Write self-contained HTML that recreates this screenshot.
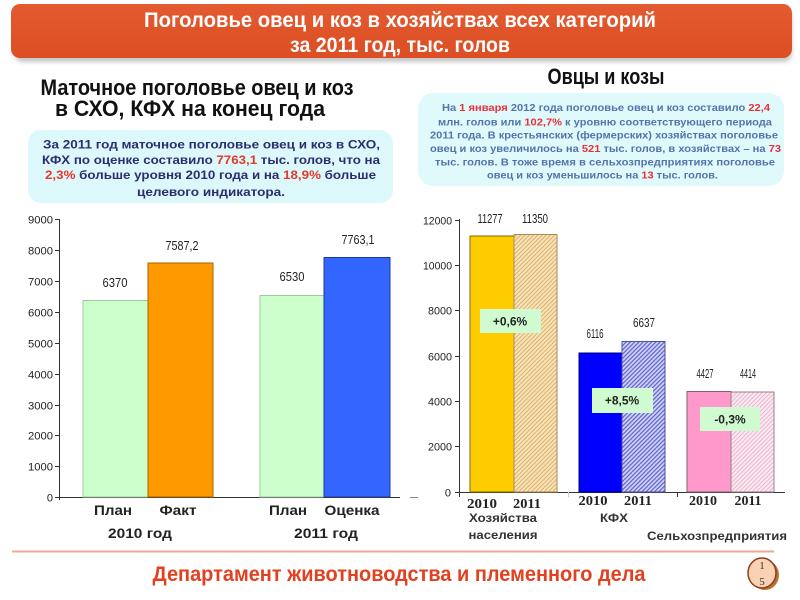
<!DOCTYPE html>
<html><head><meta charset="utf-8"><style>
html,body{margin:0;padding:0;background:#fff;}
svg{display:block;}
</style></head><body>
<svg width="800" height="600" viewBox="0 0 800 600" xmlns="http://www.w3.org/2000/svg" font-family="'Liberation Sans', sans-serif">
<defs>
<linearGradient id="ban" x1="0" y1="0" x2="0" y2="1">
<stop offset="0" stop-color="#e45a30"/><stop offset="1" stop-color="#dc4e24"/>
</linearGradient>
<filter id="sh" x="-5%" y="-20%" width="110%" height="160%"><feGaussianBlur stdDeviation="2"/></filter>
<pattern id="hTan" width="3" height="3" patternUnits="userSpaceOnUse" patternTransform="rotate(45)">
<rect width="3" height="3" fill="#f9e3b6"/><rect width="1" height="3" fill="#d9b272"/></pattern>
<pattern id="hBlue" width="3" height="3" patternUnits="userSpaceOnUse" patternTransform="rotate(45)">
<rect width="3" height="3" fill="#d0d3f4"/><rect width="1.2" height="3" fill="#5b60cf"/></pattern>
<pattern id="hPink" width="3" height="3" patternUnits="userSpaceOnUse" patternTransform="rotate(45)">
<rect width="3" height="3" fill="#fbe8f1"/><rect width="1" height="3" fill="#eab8d0"/></pattern>
</defs>

<!-- Banner -->
<rect x="14" y="9" width="778" height="53" rx="9" fill="#999" opacity="0.55" filter="url(#sh)"/>
<rect x="11" y="4" width="781" height="54" rx="9" fill="url(#ban)"/>
<text x="400" y="27" font-size="21" font-weight="bold" fill="#fff" text-anchor="middle" textLength="512" lengthAdjust="spacingAndGlyphs">Поголовье  овец и коз в хозяйствах всех категорий</text>
<text x="400" y="52" font-size="21" font-weight="bold" fill="#fff" text-anchor="middle" textLength="220" lengthAdjust="spacingAndGlyphs">за 2011 год, тыс. голов</text>

<!-- Subtitles -->
<text x="197" y="95" font-size="22" font-weight="bold" fill="#111" text-anchor="middle" textLength="313" lengthAdjust="spacingAndGlyphs">Маточное поголовье овец и коз</text>
<text x="190" y="116" font-size="22" font-weight="bold" fill="#111" text-anchor="middle" textLength="270" lengthAdjust="spacingAndGlyphs">в СХО, КФХ на конец года</text>
<text x="606" y="84" font-size="22" font-weight="bold" fill="#111" text-anchor="middle" textLength="117" lengthAdjust="spacingAndGlyphs">Овцы и козы</text>

<!-- Left text box -->
<rect x="28" y="130" width="365" height="73" rx="13" fill="#dcf8fb"/>
<g font-size="12" font-weight="bold" fill="#2b2d6e">
<text x="43" y="148.5" textLength="337" lengthAdjust="spacingAndGlyphs">За 2011 год маточное поголовье овец и коз в СХО,</text>
<text x="42" y="164" textLength="338" lengthAdjust="spacingAndGlyphs">КФХ по оценке составило <tspan fill="#e5382c">7763,1</tspan> тыс. голов, что на</text>
<text x="45" y="179" textLength="331" lengthAdjust="spacingAndGlyphs"><tspan fill="#e5382c">2,3%</tspan> больше уровня 2010 года и на <tspan fill="#e5382c">18,9%</tspan> больше</text>
<text x="137" y="196" textLength="148" lengthAdjust="spacingAndGlyphs">целевого индикатора.</text>
</g>

<!-- Right text box -->
<rect x="418" y="93" width="366" height="93" rx="15" fill="#e0fafc"/>
<g font-size="10.5" font-weight="bold" fill="#5374ab">
<text x="442" y="111" textLength="328" lengthAdjust="spacingAndGlyphs">На <tspan fill="#e8303a">1 января</tspan> 2012 года поголовье овец и коз составило <tspan fill="#e8303a">22,4</tspan></text>
<text x="438" y="125.5" textLength="334" lengthAdjust="spacingAndGlyphs">млн. голов или <tspan fill="#e8303a">102,7%</tspan> к уровню соответствующего периода</text>
<text x="430" y="138.5" textLength="348" lengthAdjust="spacingAndGlyphs">2011 года. В крестьянских (фермерских) хозяйствах поголовье</text>
<text x="430" y="152" textLength="351" lengthAdjust="spacingAndGlyphs">овец и коз увеличилось на <tspan fill="#e8303a">521</tspan> тыс. голов, в хозяйствах – на <tspan fill="#e8303a">73</tspan></text>
<text x="435" y="165.5" textLength="340" lengthAdjust="spacingAndGlyphs">тыс. голов. В тоже время в сельхозпредприятиях поголовье</text>
<text x="487" y="178.5" textLength="231" lengthAdjust="spacingAndGlyphs">овец и коз уменьшилось на <tspan fill="#e8303a">13</tspan> тыс. голов.</text>
</g>

<!-- Left chart -->
<g stroke="#333" stroke-width="1">
<line x1="59.5" y1="219" x2="59.5" y2="500"/>
<line x1="59" y1="497.5" x2="400" y2="497.5"/>
<line x1="55" y1="219.5" x2="59" y2="219.5"/>
<line x1="55" y1="250.5" x2="59" y2="250.5"/>
<line x1="55" y1="281.5" x2="59" y2="281.5"/>
<line x1="55" y1="312.5" x2="59" y2="312.5"/>
<line x1="55" y1="343.5" x2="59" y2="343.5"/>
<line x1="55" y1="374.5" x2="59" y2="374.5"/>
<line x1="55" y1="405.5" x2="59" y2="405.5"/>
<line x1="55" y1="435.5" x2="59" y2="435.5"/>
<line x1="55" y1="466.5" x2="59" y2="466.5"/>
<line x1="55" y1="497.5" x2="59" y2="497.5"/>
</g>
<g font-size="11" fill="#222" text-anchor="end">
<text x="53" y="223.5" textLength="25" lengthAdjust="spacingAndGlyphs">9000</text>
<text x="53" y="254.5" textLength="25" lengthAdjust="spacingAndGlyphs">8000</text>
<text x="53" y="285.5" textLength="25" lengthAdjust="spacingAndGlyphs">7000</text>
<text x="53" y="316.5" textLength="25" lengthAdjust="spacingAndGlyphs">6000</text>
<text x="53" y="347.5" textLength="25" lengthAdjust="spacingAndGlyphs">5000</text>
<text x="53" y="378.5" textLength="25" lengthAdjust="spacingAndGlyphs">4000</text>
<text x="53" y="409.5" textLength="25" lengthAdjust="spacingAndGlyphs">3000</text>
<text x="53" y="439.5" textLength="25" lengthAdjust="spacingAndGlyphs">2000</text>
<text x="53" y="470.5" textLength="25" lengthAdjust="spacingAndGlyphs">1000</text>
<text x="53" y="501.5">0</text>
</g>
<rect x="83" y="300.5" width="65" height="196.5" fill="#ccffcc" stroke="#9ccc9c" stroke-width="1"/>
<rect x="148" y="263" width="65" height="234" fill="#ff9900" stroke="#a86400" stroke-width="1"/>
<rect x="260" y="295.5" width="64" height="201.5" fill="#ccffcc" stroke="#9ccc9c" stroke-width="1"/>
<rect x="324" y="257.5" width="66" height="239.5" fill="#3366ff" stroke="#1d3a9c" stroke-width="1"/>
<g font-size="13" fill="#222" text-anchor="middle">
<text x="115" y="287" textLength="25" lengthAdjust="spacingAndGlyphs">6370</text>
<text x="182" y="250" textLength="33" lengthAdjust="spacingAndGlyphs">7587,2</text>
<text x="292" y="281" textLength="25" lengthAdjust="spacingAndGlyphs">6530</text>
<text x="358" y="244" textLength="33" lengthAdjust="spacingAndGlyphs">7763,1</text>
</g>
<g font-size="14" font-weight="bold" fill="#222" text-anchor="middle">
<text x="113" y="515" textLength="38" lengthAdjust="spacingAndGlyphs">План</text>
<text x="178" y="515" textLength="37" lengthAdjust="spacingAndGlyphs">Факт</text>
<text x="288" y="515" textLength="38" lengthAdjust="spacingAndGlyphs">План</text>
<text x="352" y="515" textLength="55" lengthAdjust="spacingAndGlyphs">Оценка</text>
<text x="140" y="538" textLength="64" lengthAdjust="spacingAndGlyphs">2010 год</text>
<text x="326" y="538" textLength="64" lengthAdjust="spacingAndGlyphs">2011 год</text>
</g>

<!-- Right chart -->
<g stroke="#333" stroke-width="1">
<line x1="459.5" y1="219" x2="459.5" y2="497"/>
<line x1="459" y1="492.5" x2="785" y2="492.5"/>
<line x1="455" y1="220.5" x2="459" y2="220.5"/>
<line x1="455" y1="265.5" x2="459" y2="265.5"/>
<line x1="455" y1="310.5" x2="459" y2="310.5"/>
<line x1="455" y1="356.5" x2="459" y2="356.5"/>
<line x1="455" y1="401.5" x2="459" y2="401.5"/>
<line x1="455" y1="446.5" x2="459" y2="446.5"/>
<line x1="455" y1="492.5" x2="459" y2="492.5"/>
<line x1="677.5" y1="492" x2="677.5" y2="497"/>
<line x1="568.5" y1="492" x2="568.5" y2="497" stroke="#ccc"/>
<line x1="410" y1="497.5" x2="418" y2="497.5" stroke="#888"/>
</g>
<g font-size="11" fill="#222" text-anchor="end">
<text x="452" y="224.5" textLength="29" lengthAdjust="spacingAndGlyphs">12000</text>
<text x="452" y="269.5" textLength="29" lengthAdjust="spacingAndGlyphs">10000</text>
<text x="452" y="314.5" textLength="24" lengthAdjust="spacingAndGlyphs">8000</text>
<text x="452" y="360.5" textLength="24" lengthAdjust="spacingAndGlyphs">6000</text>
<text x="452" y="405.5" textLength="24" lengthAdjust="spacingAndGlyphs">4000</text>
<text x="452" y="450.5" textLength="24" lengthAdjust="spacingAndGlyphs">2000</text>
<text x="451" y="496.5">0</text>
</g>
<rect x="470" y="236" width="44" height="256" fill="#ffcc00" stroke="#7f6a00" stroke-width="1"/>
<rect x="514" y="234.5" width="43" height="257.5" fill="url(#hTan)" stroke="#a88a5a" stroke-width="1"/>
<rect x="579" y="353" width="43" height="139" fill="#0000ff" stroke="#00007a" stroke-width="1"/>
<rect x="622" y="341.5" width="43" height="150.5" fill="url(#hBlue)" stroke="#50509a" stroke-width="1"/>
<rect x="687" y="391.5" width="44" height="100.5" fill="#ff99cc" stroke="#806070" stroke-width="1"/>
<rect x="731" y="392" width="43" height="100" fill="url(#hPink)" stroke="#98808c" stroke-width="1"/>
<g font-size="13" fill="#222" text-anchor="middle">
<text x="490" y="223" textLength="25" lengthAdjust="spacingAndGlyphs">11277</text>
<text x="535" y="223" textLength="26" lengthAdjust="spacingAndGlyphs">11350</text>
<text x="595" y="338" textLength="17" lengthAdjust="spacingAndGlyphs">6116</text>
<text x="644" y="327" textLength="22" lengthAdjust="spacingAndGlyphs">6637</text>
<text x="705" y="378" textLength="17" lengthAdjust="spacingAndGlyphs">4427</text>
<text x="748" y="378" textLength="16" lengthAdjust="spacingAndGlyphs">4414</text>
</g>
<rect x="480" y="309" width="61" height="24" fill="#d0fad0"/>
<rect x="592" y="388" width="61" height="25" fill="#d0fad0"/>
<rect x="700" y="407" width="60" height="24" fill="#d0fad0"/>
<g font-size="12" font-weight="bold" fill="#222" text-anchor="middle">
<text x="510" y="325.5">+0,6%</text>
<text x="622" y="404.5">+8,5%</text>
<text x="730" y="423.5">-0,3%</text>
</g>
<g font-family="'Liberation Serif', serif" font-size="14" font-weight="bold" fill="#222" text-anchor="middle">
<text x="482" y="508" textLength="30" lengthAdjust="spacingAndGlyphs">2010</text>
<text x="527" y="508" textLength="28" lengthAdjust="spacingAndGlyphs">2011</text>
<text x="593" y="505" textLength="29" lengthAdjust="spacingAndGlyphs">2010</text>
<text x="638" y="505" textLength="28" lengthAdjust="spacingAndGlyphs">2011</text>
<text x="703" y="505" textLength="28" lengthAdjust="spacingAndGlyphs">2010</text>
<text x="748" y="505" textLength="27" lengthAdjust="spacingAndGlyphs">2011</text>
</g>
<g font-size="11.5" font-weight="bold" fill="#333" text-anchor="middle">
<text x="503" y="522" textLength="68" lengthAdjust="spacingAndGlyphs">Хозяйства</text>
<text x="503" y="539" textLength="69" lengthAdjust="spacingAndGlyphs">населения</text>
<text x="614" y="522" textLength="28" lengthAdjust="spacingAndGlyphs">КФХ</text>
<text x="717" y="540" textLength="140" lengthAdjust="spacingAndGlyphs">Сельхозпредприятия</text>
</g>

<!-- Footer -->
<rect x="12" y="550.5" width="762" height="2" fill="#f2a590"/>
<text x="399" y="581" font-size="21" font-weight="bold" fill="#e2401f" text-anchor="middle" textLength="493" lengthAdjust="spacingAndGlyphs">Департамент животноводства и племенного дела</text>
<ellipse cx="765" cy="575" rx="14" ry="15" fill="#b8742e"/>
<ellipse cx="762" cy="573" rx="14" ry="15" fill="#f9d2b4" stroke="#8a3e1c" stroke-width="1.5"/>
<g font-family="'Liberation Serif', serif" font-size="11" fill="#333" text-anchor="middle">
<text x="762" y="569">1</text>
<text x="762" y="585">5</text>
</g>
</svg>
</body></html>
